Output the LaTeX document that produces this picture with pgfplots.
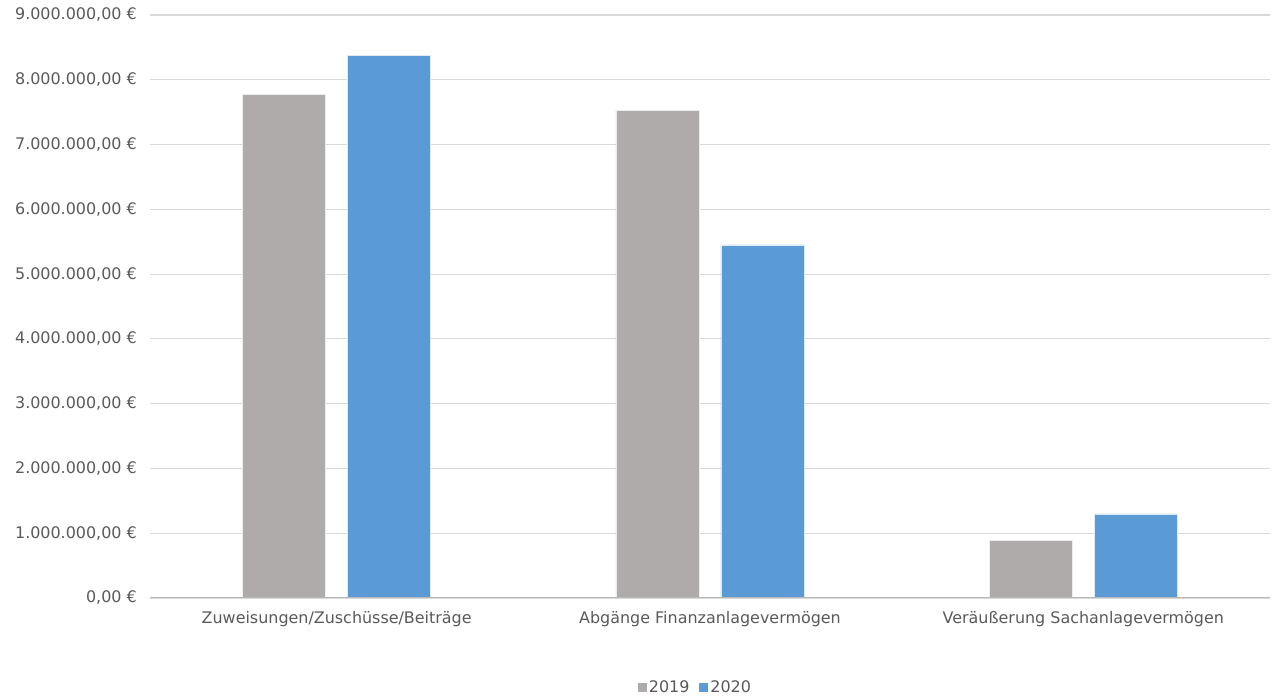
\documentclass[border=0pt]{standalone}
\usepackage{pgfplots}
\pgfplotsset{compat=1.18}
\usepackage{fontspec}
\setmainfont{DejaVu Sans}
\definecolor{bargray}{RGB}{175,171,171}
\definecolor{barblue}{RGB}{91,155,213}
\definecolor{gridgray}{RGB}{217,217,217}
\definecolor{txtgray}{RGB}{89,89,89}
\begin{document}
\begin{tikzpicture}
\path[use as bounding box] (0,0) rectangle (1275bp,697bp);
\begin{axis}[
    at={(150bp,99bp)}, anchor=south west,
    scale only axis,
    width=1120bp, height=583bp,
    ybar, bar width=83bp,
    xmin=-0.5, xmax=2.5,
    ymin=0, ymax=9000000,
    axis line style={draw=none},
    ymajorgrids=true,
    grid style={gridgray, line width=1.2bp},
    ytick={0,1000000,2000000,3000000,4000000,5000000,6000000,7000000,8000000,9000000},
    yticklabels={{0,00 €},{1.000.000,00 €},{2.000.000,00 €},{3.000.000,00 €},{4.000.000,00 €},{5.000.000,00 €},{6.000.000,00 €},{7.000.000,00 €},{8.000.000,00 €},{9.000.000,00 €}},
    xtick={0,1,2},
    xticklabels={Zuweisungen/Zuschüsse/Beiträge, Abgänge Finanzanlagevermögen, Veräußerung Sachanlagevermögen},
    major tick length=0pt,
    tick label style={font=\fontsize{16}{19}\selectfont, text=txtgray, inner sep=0pt},
    yticklabel style={xshift=-13bp},
    xticklabel style={yshift=-13bp},
    legend style={at={(axis description cs:0.487,-0.154)}, anchor=center, draw=none,
        legend columns=2, font=\fontsize{16}{19}\selectfont, text=txtgray,
        /tikz/every even column/.append style={column sep=8bp}},
    legend image code/.code={\fill[#1,draw=none] (0bp,-4.5bp) rectangle (9bp,4.5bp);},
]
\addplot[fill=bargray, draw=white!80!bargray, bar shift=-52.5bp] coordinates {(0,7780000) (1,7530000) (2,895000)};
\addplot[fill=barblue, draw=white!80!barblue, bar shift=52.5bp] coordinates {(0,8380000) (1,5450000) (2,1300000)};
\draw[gridgray!85!black, line width=1.2bp] (axis cs:-0.5,0) -- (axis cs:2.5,0);
\legend{2019,2020}
\end{axis}
\end{tikzpicture}
\end{document}
